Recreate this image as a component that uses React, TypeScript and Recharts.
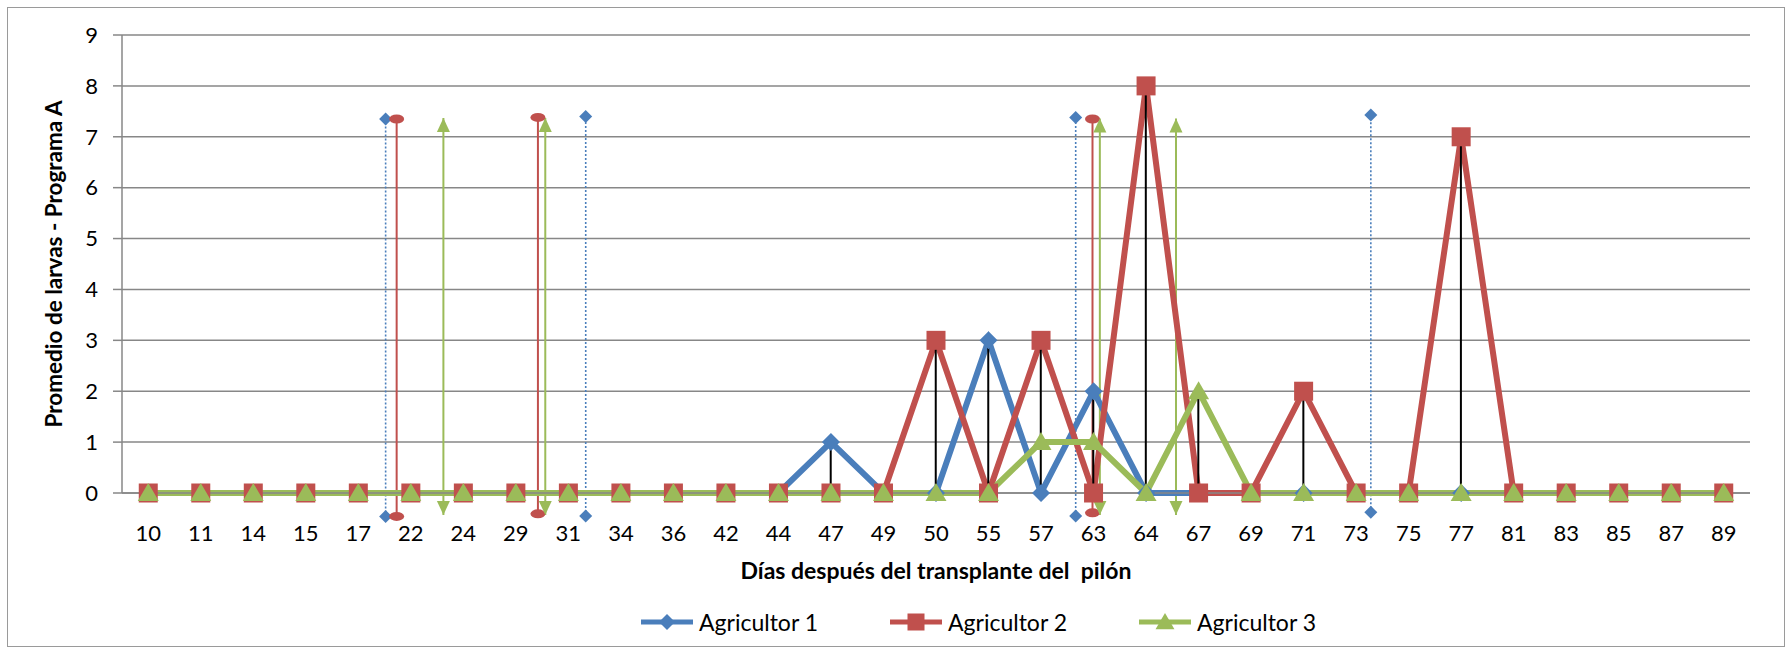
import React from "react";
import {
  ComposedChart,
  Line,
  Bar,
  XAxis,
  YAxis,
  CartesianGrid,
  Legend,
  ReferenceLine,
  ReferenceDot,
  Label,
} from "recharts";

const days = [
  10, 11, 14, 15, 17, 22, 24, 29, 31, 34, 36, 42, 44, 47, 49, 50, 55, 57, 63,
  64, 67, 69, 71, 73, 75, 77, 81, 83, 85, 87, 89,
];
const agricultor1 = [
  0, 0, 0, 0, 0, 0, 0, 0, 0, 0, 0, 0, 0, 1, 0, 0, 3, 0, 2, 0, 0, 0, 0, 0, 0, 0,
  0, 0, 0, 0, 0,
];
const agricultor2 = [
  0, 0, 0, 0, 0, 0, 0, 0, 0, 0, 0, 0, 0, 0, 0, 3, 0, 3, 0, 8, 0, 0, 2, 0, 0, 7,
  0, 0, 0, 0, 0,
];
const agricultor3 = [
  0, 0, 0, 0, 0, 0, 0, 0, 0, 0, 0, 0, 0, 0, 0, 0, 0, 1, 1, 0, 2, 0, 0, 0, 0, 0,
  0, 0, 0, 0, 0,
];
const yTicks = [0, 1, 2, 3, 4, 5, 6, 7, 8, 9];

// applications drawn as arrows (position in category units, top, bottom)
const aplicaciones1 = [
  { pos: 4.52, top: 7.35, bottom: -0.46 },
  { pos: 8.33, top: 7.4, bottom: -0.45 },
  { pos: 17.66, top: 7.38, bottom: -0.45 },
  { pos: 23.28, top: 7.43, bottom: -0.38 },
];
const aplicaciones2 = [
  { pos: 4.73, top: 7.35, bottom: -0.46 },
  { pos: 7.42, top: 7.38, bottom: -0.41 },
  { pos: 17.98, top: 7.35, bottom: -0.39 },
];
const aplicaciones3 = [
  { pos: 5.62, top: 7.37, bottom: -0.43 },
  { pos: 7.56, top: 7.37, bottom: -0.43 },
  { pos: 18.12, top: 7.36, bottom: -0.43 },
  { pos: 19.57, top: 7.36, bottom: -0.43 },
];

const BLUE = "#4a7ebb";
const RED = "#c0504d";
const GREEN = "#9bbb59";
const GRID = "#878787";
const FONT = "Lato, 'Open Sans', sans-serif";

const data = days.map((d, i) => {
  const vals = [agricultor1[i], agricultor2[i], agricultor3[i]];
  return {
    idx: i,
    a1: agricultor1[i],
    a2: agricultor2[i],
    a3: agricultor3[i],
    hl: [Math.min(...vals), Math.max(...vals)],
  };
});

const diamond = (cx: number, cy: number, r: number, fill: string, key?: any) => (
  <path
    key={key}
    d={`M${cx},${cy - r}L${cx + r},${cy}L${cx},${cy + r}L${cx - r},${cy}Z`}
    fill={fill}
  />
);
const square = (cx: number, cy: number, r: number, fill: string, key?: any) => (
  <rect key={key} x={cx - r} y={cy - r} width={r * 2} height={r * 2} fill={fill} />
);
const triangle = (cx: number, cy: number, r: number, fill: string, key?: any) => (
  <path
    key={key}
    d={`M${cx},${cy - r}L${cx + r * 1.05},${cy + r * 0.8}L${cx - r * 1.05},${cy + r * 0.8}Z`}
    fill={fill}
  />
);
const arrowHead = (cx: number, cy: number, dir: number, fill: string) => (
  <path
    d={`M${cx},${cy}L${cx + 6.5},${cy + dir * 14}L${cx - 6.5},${cy + dir * 14}Z`}
    fill={fill}
  />
);

const series = [
  { key: "a1", name: "Agricultor 1", color: BLUE, marker: diamond, r: 9 },
  { key: "a2", name: "Agricultor 2", color: RED, marker: square, r: 9.5 },
  { key: "a3", name: "Agricultor 3", color: GREEN, marker: triangle, r: 10 },
];

const LegendContent = () => (
  <div style={{ display: "flex", paddingLeft: 641, fontFamily: FONT, fontSize: 23 }}>
    {series.map((s) => (
      <div key={s.key} style={{ display: "flex", alignItems: "center", width: 249 }}>
        <svg width={52} height={26} style={{ marginRight: 6 }}>
          <line x1={0} y1={13} x2={52} y2={13} stroke={s.color} strokeWidth={5} />
          {s.marker(26, 13, s.r - 1, s.color)}
        </svg>
        <span style={{ color: "#000" }}>{s.name}</span>
      </div>
    ))}
  </div>
);

const XTick = (props: any) => (
  <text
    x={props.x}
    y={props.y + 48}
    textAnchor="middle"
    fontFamily={FONT}
    fontSize={22}
    fill="#000"
  >
    {days[props.payload.value]}
  </text>
);

const renderEvents = (list: any[], color: string, kind: string) =>
  list.map((e, i) => [
    <ReferenceLine
      key={`${kind}-l-${i}`}
      segment={[
        { x: e.pos, y: e.bottom },
        { x: e.pos, y: e.top },
      ]}
      stroke={color}
      strokeWidth={kind === "a1" ? 1.6 : 2}
      strokeDasharray={kind === "a1" ? "2 2" : undefined}
      ifOverflow="visible"
    />,
    <ReferenceDot
      key={`${kind}-t-${i}`}
      x={e.pos}
      y={e.top}
      r={6}
      ifOverflow="visible"
      shape={(p: any) =>
        kind === "a1" ? (
          diamond(p.cx, p.cy, 6.5, color)
        ) : kind === "a2" ? (
          <ellipse cx={p.cx} cy={p.cy} rx={7.5} ry={4.5} fill={color} />
        ) : (
          arrowHead(p.cx, p.cy, 1, color)
        )
      }
    />,
    <ReferenceDot
      key={`${kind}-b-${i}`}
      x={e.pos}
      y={e.bottom}
      r={6}
      ifOverflow="visible"
      shape={(p: any) =>
        kind === "a1" ? (
          diamond(p.cx, p.cy, 6.5, color)
        ) : kind === "a2" ? (
          <ellipse cx={p.cx} cy={p.cy} rx={7.5} ry={4.5} fill={color} />
        ) : (
          arrowHead(p.cx, p.cy, -1, color)
        )
      }
    />,
  ]);

const App = () => {
  return (
    <div
      style={{
        position: "absolute",
        left: 0,
        top: 0,
        width: 1790,
        height: 654,
        background: "#fff",
      }}
    >
      <div
        style={{
          position: "absolute",
          left: 7,
          top: 7,
          width: 1776,
          height: 638,
          border: "1.5px solid #9a9a9a",
        }}
      />
      <ComposedChart
        width={1790}
        height={654}
        data={data}
        margin={{ top: 35, right: 40, left: 0, bottom: 0 }}
      >
        <CartesianGrid vertical={false} stroke={GRID} strokeWidth={1.5} />
        <XAxis
          dataKey="idx"
          type="number"
          domain={[-0.5, 30.5]}
          ticks={days.map((_, i) => i)}
          interval={0}
          height={161}
          tickSize={0}
          tickMargin={0}
          tickLine={false}
          axisLine={{ stroke: GRID, strokeWidth: 1.5 }}
          tick={<XTick />}
        >
          <Label
            content={(p: any) => (
              <text
                x={p.viewBox.x + p.viewBox.width / 2}
                y={p.viewBox.y + 86}
                textAnchor="middle"
                fontFamily={FONT}
                fontSize={23}
                fontWeight="bold"
                fill="#000"
              >
                Días después del transplante del{"\u00a0\u00a0"}pilón
              </text>
            )}
          />
        </XAxis>
        <YAxis
          type="number"
          domain={[0, 9]}
          ticks={yTicks}
          interval={0}
          width={122}
          tickSize={9}
          tickMargin={15}
          tickLine={{ stroke: GRID, strokeWidth: 1.5 }}
          axisLine={{ stroke: GRID, strokeWidth: 1.5 }}
          tick={{ fontFamily: FONT, fontSize: 22, fill: "#000" }}
        >
          <Label
            content={(p: any) => {
              const cy = p.viewBox.y + p.viewBox.height / 2;
              return (
                <text
                  x={62}
                  y={cy}
                  transform={`rotate(-90, 62, ${cy})`}
                  textAnchor="middle"
                  fontFamily={FONT}
                  fontSize={22.5}
                  fontWeight="bold"
                  fill="#000"
                >
                  Promedio de larvas - Programa A
                </text>
              );
            }}
          />
        </YAxis>
        <Legend
          layout="horizontal"
          verticalAlign="middle"
          align="center"
          wrapperStyle={{ top: 608, left: 0, width: 1790 }}
          content={<LegendContent />}
        />
        {renderEvents(aplicaciones1, BLUE, "a1")}
        {renderEvents(aplicaciones2, RED, "a2")}
        {renderEvents(aplicaciones3, GREEN, "a3")}
        {series.map((s) => (
          <Line
            key={s.key}
            dataKey={s.key}
            name={s.name}
            type="linear"
            stroke={s.color}
            strokeWidth={6}
            isAnimationActive={false}
            dot={(p: any) => s.marker(p.cx, p.cy, s.r, s.color, `${s.key}-${p.index}`)}
            activeDot={false}
            legendType="none"
          />
        ))}
        <Bar
          dataKey="hl"
          barSize={2}
          fill="#000"
          isAnimationActive={false}
          legendType="none"
          zIndex={450}
        />
      </ComposedChart>
    </div>
  );
};

export default App;
